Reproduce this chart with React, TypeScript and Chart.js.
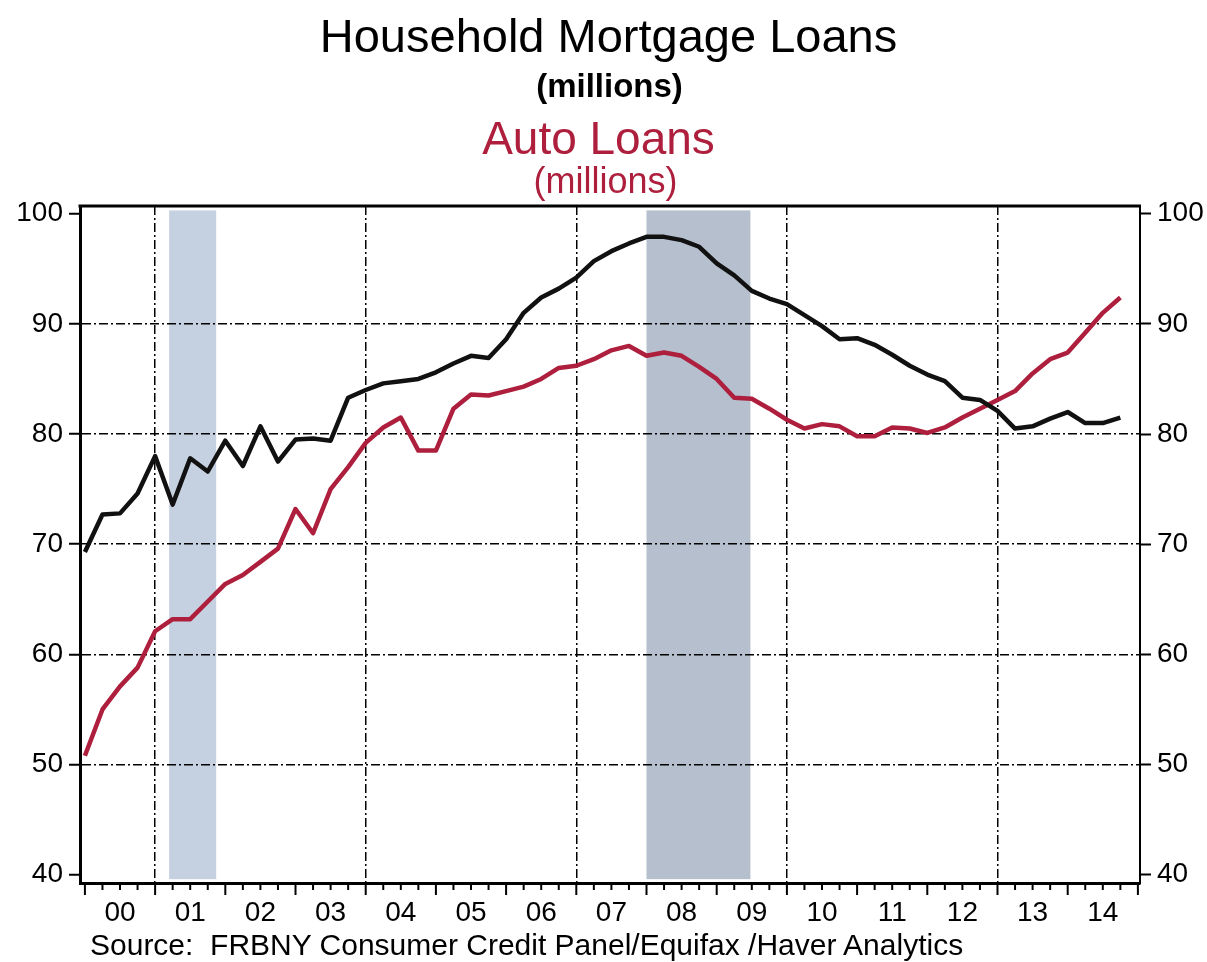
import React, { useEffect, useRef } from "react";
import { Chart, registerables } from "chart.js";

Chart.register(...registerables);

// ---- data ----
const startYear = 2000;
const quarterCount = 60;
const quarterDates = Array.from({ length: quarterCount }, (_, i) => startYear + i * 0.25);

const mortgageLoans = [
  69.3, 72.7, 72.8, 74.6, 78.0, 73.6, 77.8, 76.6, 79.4, 77.1,
  80.7, 77.5, 79.5, 79.6, 79.4, 83.3, 84.0, 84.6, 84.8, 85.0,
  85.6, 86.4, 87.1, 86.9, 88.6, 91.0, 92.4, 93.2, 94.2, 95.7,
  96.6, 97.3, 97.9, 97.9, 97.6, 97.0, 95.5, 94.4, 93.0, 92.3,
  91.8, 90.8, 89.8, 88.6, 88.7, 88.1, 87.2, 86.2, 85.4, 84.8,
  83.3, 83.1, 82.1, 80.5, 80.7, 81.4, 82.0, 81.0, 81.0, 81.5,
];

const autoLoans = [
  50.8, 55.0, 57.1, 58.8, 62.1, 63.2, 63.2, 64.8, 66.4, 67.2,
  68.4, 69.6, 73.2, 71.0, 75.0, 77.0, 79.2, 80.6, 81.5, 78.5,
  78.5, 82.3, 83.6, 83.5, 83.9, 84.3, 85.0, 86.0, 86.2, 86.8,
  87.6, 88.0, 87.1, 87.4, 87.1, 86.1, 85.0, 83.3, 83.2, 82.3,
  81.3, 80.5, 80.9, 80.7, 79.8, 79.8, 80.6, 80.5, 80.1, 80.6,
  81.5, 82.3, 83.1, 83.9, 85.5, 86.8, 87.4, 89.2, 91.0, 92.4,
];

const yTickValues = [40, 50, 60, 70, 80, 90, 100];
const yGridValues = [50, 60, 70, 80, 90];
const xFirstYear = 2000;
const xLastYear = 2015;
const gridYears = [2001, 2004, 2007, 2010, 2013];

const recessionStart = [2001.2, 2008.0];
const recessionEnd = [2001.87, 2009.48];
const recessionColor = ["#c5d0e0", "#b5bfcd"];
const bandTop = 100.3;
const bandBottom = 39.6;

const FONT = "'Liberation Sans', Arial, Helvetica, sans-serif";
const RED = "#ad1f3d";

const bandsPlugin = {
  id: "recessionBands",
  beforeDraw(chart: any) {
    const { ctx, scales } = chart;
    const x = scales.x;
    const y = scales.y;
    ctx.save();
    for (let i = 0; i < recessionStart.length; i++) {
      const x1 = x.getPixelForValue(recessionStart[i]);
      const x2 = x.getPixelForValue(recessionEnd[i]);
      const y1 = y.getPixelForValue(bandTop);
      const y2 = y.getPixelForValue(bandBottom);
      ctx.fillStyle = recessionColor[i];
      ctx.fillRect(x1, y1, x2 - x1, y2 - y1);
    }
    ctx.restore();
  },
};

const framePlugin = {
  id: "frameAndTicks",
  afterDraw(chart: any) {
    const { ctx, chartArea, scales } = chart;
    const x = scales.x;
    ctx.save();
    ctx.strokeStyle = "#000";
    // top border
    ctx.lineWidth = 3;
    ctx.beginPath();
    ctx.moveTo(chartArea.left - 1.5, chartArea.top);
    ctx.lineTo(chartArea.right + 1, chartArea.top);
    ctx.stroke();
    // quarterly tick marks on the time axis
    ctx.lineWidth = 2;
    for (const t of x.ticks) {
      const px = x.getPixelForValue(t.value);
      const major = Math.abs(t.value - Math.round(t.value)) < 1e-6;
      ctx.beginPath();
      ctx.moveTo(px, chartArea.bottom);
      ctx.lineTo(px, chartArea.bottom + (major ? 12 : 7));
      ctx.stroke();
    }
    ctx.restore();
  },
};

const yAxisCommon = {
  type: "linear" as const,
  min: 39.25,
  max: 100.7,
  afterBuildTicks: (scale: any) => {
    scale.ticks = yTickValues.map((v) => ({ value: v }));
  },
  ticks: {
    color: "#000",
    font: { family: FONT, size: 28 },
    padding: 6,
    callback: (v: any) => String(v),
  },
  border: { display: true, color: "#000", width: 3, dash: [9, 3, 2, 3] },
};

export default function App() {
  const ref = useRef<HTMLCanvasElement | null>(null);

  useEffect(() => {
    if (!ref.current) return;
    const chart = new Chart(ref.current, {
      type: "line",
      data: {
        datasets: [
          {
            label: "Household Mortgage Loans",
            data: quarterDates.map((d, i) => ({ x: d, y: mortgageLoans[i] })),
            borderColor: "#111",
            borderWidth: 4.5,
            pointRadius: 0,
            tension: 0,
            borderJoinStyle: "round",
          },
          {
            label: "Auto Loans",
            data: quarterDates.map((d, i) => ({ x: d, y: autoLoans[i] })),
            borderColor: RED,
            borderWidth: 4.5,
            pointRadius: 0,
            tension: 0,
            borderJoinStyle: "round",
          },
        ],
      },
      options: {
        animation: false,
        responsive: false,
        maintainAspectRatio: false,
        layout: { padding: { top: 206, left: 0, right: 0, bottom: 0 } },
        plugins: {
          legend: { display: false },
          tooltip: { enabled: false },
          title: { display: false },
        },
        scales: {
          x: {
            type: "linear",
            min: xFirstYear - 0.07,
            max: xLastYear + 0.03,
            afterBuildTicks: (scale: any) => {
              const t = [];
              for (let v = xFirstYear; v <= xLastYear + 1e-9; v += 0.25) t.push({ value: v });
              scale.ticks = t;
            },
            afterFit: (scale: any) => {
              scale.height = 79;
            },
            grid: {
              drawTicks: false,
              lineWidth: 1.5,
              color: (c: any) =>
                c.tick && gridYears.some((g) => Math.abs(g - c.tick.value) < 1e-6) ? "#000" : "rgba(0,0,0,0)",
            },
            border: { display: true, color: "#000", width: 3, dash: [9, 3, 2, 3] },
            ticks: {
              autoSkip: false,
              maxRotation: 0,
              color: "#000",
              font: { family: FONT, size: 28 },
              padding: 13,
              callback: (v: any) => {
                const frac = v - Math.floor(v);
                if (Math.abs(frac - 0.5) < 1e-6) {
                  const yy = Math.floor(v) % 100;
                  return yy < 10 ? "0" + yy : String(yy);
                }
                return "";
              },
            },
          },
          y: {
            ...yAxisCommon,
            position: "left",
            afterFit: (scale: any) => {
              scale.width = 80;
            },
            grid: {
              drawTicks: true,
              tickLength: 11,
              tickWidth: 2,
              tickColor: "#000",
              lineWidth: 1.5,
              color: (c: any) =>
                c.tick && yGridValues.includes(c.tick.value) ? "#000" : "rgba(0,0,0,0)",
            },
          },
          y2: {
            ...yAxisCommon,
            position: "right",
            afterFit: (scale: any) => {
              scale.width = 67;
            },
            border: { display: true, color: "#000", width: 2 },
            grid: {
              drawOnChartArea: false,
              drawTicks: true,
              tickLength: 11,
              tickWidth: 2,
              tickColor: "#000",
            },
          },
        },
      } as any,
      plugins: [bandsPlugin, framePlugin],
    });
    return () => chart.destroy();
  }, []);

  const textBase: React.CSSProperties = {
    position: "absolute",
    left: 0,
    width: 1207,
    textAlign: "center",
    fontFamily: FONT,
    lineHeight: 1,
    whiteSpace: "nowrap",
  };

  return (
    <div style={{ position: "absolute", left: 0, top: 0, width: 1207, height: 962, background: "#fff" }}>
      <canvas ref={ref} width={1207} height={962} style={{ position: "absolute", left: 0, top: 0, width: 1207, height: 962 }} />
      <div style={{ ...textBase, top: 12, fontSize: 47, color: "#000", left: 5 }}>Household Mortgage Loans</div>
      <div style={{ ...textBase, top: 69, fontSize: 33, fontWeight: "bold", color: "#000", left: 6 }}>(millions)</div>
      <div style={{ ...textBase, top: 115, fontSize: 46, color: RED, left: -5 }}>Auto Loans</div>
      <div style={{ ...textBase, top: 163, fontSize: 36, color: RED, left: 2 }}>(millions)</div>
      <div style={{ ...textBase, top: 930, fontSize: 30, color: "#000", textAlign: "left", left: 90 }}>
        Source:&nbsp; FRBNY Consumer Credit Panel/Equifax /Haver Analytics
      </div>
    </div>
  );
}
